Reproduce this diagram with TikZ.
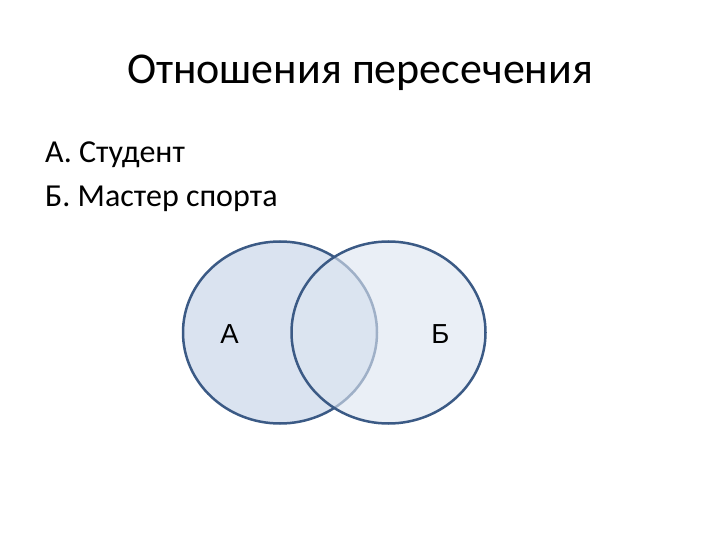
\documentclass[tikz,border=0pt]{standalone}
\usepackage{fontspec}
\setmainfont{Carlito}
\newfontfamily\arialf{Liberation Sans}
\definecolor{edgeblue}{HTML}{3B5A85}
\definecolor{fillA}{HTML}{DAE3F0}
\definecolor{fillB}{HTML}{DDE5F1}
\begin{document}
\begin{tikzpicture}[x=1pt,y=-1pt,
  title/.style={inner sep=0pt,anchor=base,font=\fontsize{44}{52}\selectfont},
  body/.style={inner sep=0pt,anchor=base west,font=\fontsize{32}{38}\selectfont},
  setlabel/.style={inner sep=0pt,anchor=base,font=\arialf\fontsize{27.5}{32}\selectfont},
  rim/.style={edgeblue,line width=2.5pt},
]
\useasboundingbox (0,0) rectangle (720,540);
\node[title] (t) at (360,84) {Отношения пересечения};
\node[body] (l1) at (45,163) {А. Студент};
\node[body] (l2) at (45,207) {Б. Мастер спорта};
\fill[fillA] (280,332.5) ellipse [x radius=97, y radius=91];
\draw[rim] (280,332.5) ellipse [x radius=97, y radius=91];
\fill[fillB,fill opacity=0.62] (388.5,332.5) ellipse [x radius=97, y radius=91];
\draw[rim] (388.5,332.5) ellipse [x radius=97, y radius=91];
\node[setlabel] (a) at (229.5,343) {А};
\node[setlabel] (b) at (440.5,343) {Б};
\end{tikzpicture}
\end{document}
